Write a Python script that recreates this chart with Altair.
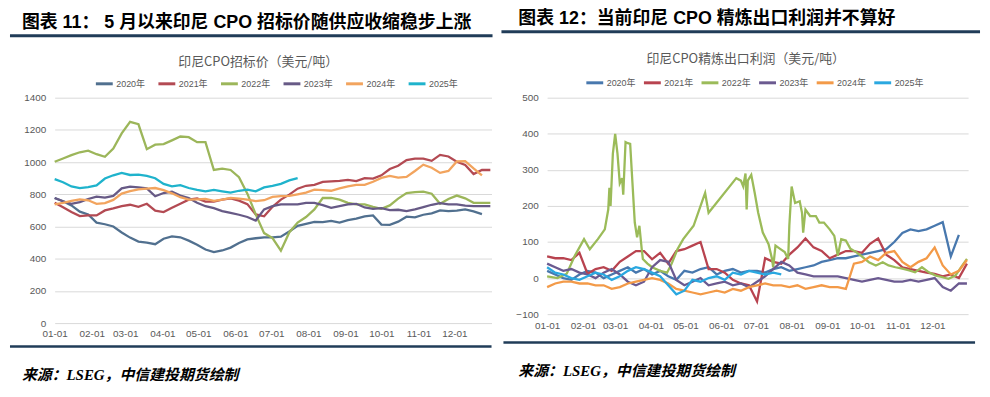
import json
import pandas as pd
import altair as alt

years = ["2020年", "2021年", "2022年", "2023年", "2024年", "2025年"]
days = list(range(0, 365, 7))
month_days = [0, 31, 59, 90, 120, 151, 181, 212, 243, 273, 304, 334]
month_labels = ["01-01", "02-01", "03-01", "04-01", "05-01", "06-01",
                "07-01", "08-01", "09-01", "10-01", "11-01", "12-01"]

# ---- left chart: CPO tender price (USD/t), weekly readings ----
tender_2020 = [777, 757, 731, 692, 675, 624, 614, 600, 563, 531, 506, 500, 490, 524, 539, 533, 512, 486,
               457, 441, 451, 469, 498, 520, 527, 533, 533, 537, 569, 604, 616, 628, 627, 635, 624, 639,
               649, 663, 669, 612, 610, 630, 661, 657, 673, 682, 700, 696, 698, 706, 694, 677, None]
tender_2021 = [747, 720, 690, 665, 669, 669, 700, 712, 726, 735, 722, 741, 698, 690, 716, 741, 767, 775,
               755, 755, 767, 775, 761, 739, 675, 663, 722, 767, 798, 835, 853, 859, 877, 880, 884, 890,
               882, 900, 898, 918, 957, 977, 1012, 1022, 1022, 1008, 1045, 1035, 1002, 982, 926, 951, 951]
tender_2022 = [1002, 1022, 1043, 1061, 1071, 1049, 1033, 1084, 1178, 1250, 1235, 1080, 1108, 1112, 1135,
               1159, 1155, 1124, 1124, 951, 959, 951, 906, 804, 675, 559, 528, 450, 563, 624, 659, 706,
               777, 777, 767, 747, 737, 737, 722, 710, 731, 773, 808, 814, 816, 804, 741, 771, 792, 775,
               747, 747, 747]
tender_2023 = [777, 757, 741, 751, 771, 786, 780, 790, 837, 847, 843, 837, 788, 808, 816, 792, 777, 747,
               726, 714, 696, 684, 673, 659, 637, 706, 726, 737, 737, 737, 747, 747, 733, 716, 726, 737,
               741, 718, 710, 714, 702, 704, 696, 706, 720, 735, 745, 737, 737, 729, 726, 726, 726]
tender_2024 = [737, 747, 759, 769, 763, 741, 745, 765, 804, 820, 831, 835, 839, 826, 806, 782, 767, 769,
               771, 759, 767, 778, 773, 767, 757, 763, 784, 788, 790, 800, 810, 829, 826, 822, 837, 849,
               859, 859, 878, 902, 914, 904, 908, 945, 984, 965, 933, 945, 1004, 1006, 961, 918, None]
tender_2025 = [894, 875, 849, 839, 845, 855, 898, 918, 933, 920, 922, 914, 900, 865, 849, 857, 839, 827,
               818, 827, 818, 810, 822, 829, 818, 843, 853, 865, 886, 900]

# ---- right chart: refining export margin (USD/t), weekly readings ----
margin_2020 = [20, 10, 0, -5, 10, 20, 15, 0, 10, 20, 30, 15, 25, 10, 20, 5, -5, 20, 15, 25, 30, 10, 20,
               25, 15, 20, 20, 15, 25, 30, 20, 25, 30, 35, 45, 50, 55, 55, 60, 65, 70, 75, 80, 100, 125,
               135, 130, 135, 145, 155, 60, 120, None]
margin_2021 = [60, 55, 55, 50, 70, 12, 25, 30, 20, 45, 60, 75, 75, 52, 70, 40, 75, 80, 90, 100, 25, 25,
               15, -5, -15, -20, -65, 55, 45, 40, 65, 85, 110, 85, 75, 55, 65, 75, 75, 70, 95, 110, 65,
               50, 30, 25, 20, 15, 12, 5, 10, 0, 40]
margin_2022_days = [0, 9, 17, 24, 32, 37, 44, 50, 53, 54, 55, 57, 59, 61, 63, 65, 66, 68, 70, 72, 74, 76,
                    78, 80, 82, 83, 87, 91, 98, 104, 108, 113, 118, 127, 136, 137, 140, 164, 168, 170,
                    172, 173, 174, 177, 180, 183, 187, 192, 195, 196, 198, 202, 206, 209, 210, 212, 215,
                    219, 221, 222, 224, 228, 233, 236, 240, 245, 249, 252, 255, 259, 263, 268, 272, 279,
                    285, 291, 296, 302, 308, 314, 319, 325, 331, 337, 342, 348, 354, 360, 364]
margin_2022 = [5, 0, 12, 62, 108, 80, 108, 135, 190, 250, 200, 345, 400, 345, 263, 277, 231, 377, 374,
               372, 263, 154, 113, 145, 81, 53, 40, 30, 20, 15, 40, 80, 108, 145, 227, 236, 181, 277, 270,
               254, 290, 190, 270, 286, 236, 181, 126, 94, 53, 30, 90, 81, 72, 53, 145, 254, 208, 213,
               181, 126, 190, 172, 172, 154, 154, 135, 117, 62, 108, 104, 81, 72, 62, 44, 35, 44, 35, 30,
               26, 21, 16, 30, 16, 7, 3, -2, 7, 35, 53]
margin_2023 = [40, 30, 20, 25, 15, 10, 0, 15, 25, 10, -10, -20, -10, 30, 50, 45, -5, -20, -10, 0, -20,
               -15, -10, -20, -15, -25, -10, 5, 25, 45, 35, 15, 10, 5, 5, 5, 5, 0, -5, -10, -5, 0, -5,
               -10, -10, -5, -10, -5, 0, -25, -35, -15, -15]
margin_2024 = [-25, -15, -10, -10, -15, -15, -20, -20, -30, -25, -15, -10, -5, 0, -5, -15, -30, -35, -40,
               -45, -40, -35, -40, -30, -35, -25, -20, -15, -20, -20, -25, -20, -30, -25, -20, -25, -25,
               -30, 40, 45, 60, 50, 70, 75, 45, 30, 45, 55, 85, 35, 10, 20, 50]
margin_2025 = [30, 15, 10, 0, -5, 5, 15, 10, -5, 5, 20, 30, 25, 15, 5, -20, -45, -35, -5, -10, 0, 5, -5,
               15, 10, 20, 15, 10, 15, 10]

left_colors = ["#51708F", "#B34A53", "#9CB65A", "#675A86", "#F2A45E", "#1FB3CC"]
right_colors = ["#4878AE", "#B8434F", "#9BBB59", "#6B5A90", "#F39A48", "#2AA8E0"]

header_left = "图表 11： 5 月以来印尼 CPO 招标价随供应收缩稳步上涨"
header_right = "图表 12：当前印尼 CPO 精炼出口利润并不算好"
title_left = "印尼CPO招标价（美元/吨）"
title_right = "印尼CPO精炼出口利润（美元/吨）"
footer_text = "来源：LSEG，中信建投期货绘制"


def long_df(day_lists, value_lists):
    rows = []
    for yr, ds, vs in zip(years, day_lists, value_lists):
        for d, v in zip(ds, vs):
            if v is not None:
                rows.append({"day": d, "value": v, "year": yr})
    return pd.DataFrame(rows)


left_df = long_df([days] * 6, [tender_2020, tender_2021, tender_2022, tender_2023, tender_2024, tender_2025])
right_df = long_df([days, days, margin_2022_days, days, days, days],
                   [margin_2020, margin_2021, margin_2022, margin_2023, margin_2024, margin_2025])

label_expr = f"{json.dumps(month_labels)}[indexof({json.dumps(month_days)}, datum.value)]"
GREY = "#595959"
NAVY = "#203C58"


def text_layer(s, x, y, **kw):
    return alt.Chart(pd.DataFrame({"t": [s]})).mark_text(**kw).encode(
        text="t:N", x=alt.value(x), y=alt.value(y))


def rule_layer(x1, x2, y, sw):
    return alt.Chart(pd.DataFrame({"t": [0]})).mark_rule(color=NAVY, strokeWidth=sw).encode(
        x=alt.value(x1), x2=alt.value(x2), y=alt.value(y))


def make(df, colors, ydom, yvals, w, h, lx, ly, colpad, header, hx, hy, top_rule, title, tx, ty, bot_rule, fy):
    lines = alt.Chart(df).mark_line(strokeWidth=2.3).encode(
        x=alt.X("day:Q", scale=alt.Scale(domain=[0, 365], nice=False, zero=False),
                axis=alt.Axis(values=month_days, labelExpr=label_expr, grid=False, domain=False,
                              ticks=False, labelFlush=False, labelPadding=6, labelColor=GREY,
                              labelFontSize=10, labelFont="Liberation Sans", title=None)),
        y=alt.Y("value:Q", scale=alt.Scale(domain=ydom, nice=False, zero=False),
                axis=alt.Axis(values=yvals, format="d", domain=False, ticks=False, labelPadding=9,
                              labelColor=GREY, labelFontSize=10, labelFont="Liberation Sans",
                              gridColor="#D9D9D9", gridWidth=1, title=None)),
        color=alt.Color("year:N", scale=alt.Scale(domain=years, range=colors),
                        legend=alt.Legend(title=None, orient="none", legendX=lx, legendY=ly,
                                          direction="horizontal", symbolType="stroke",
                                          symbolSize=289, symbolStrokeWidth=3,
                                          labelFontSize=9, labelColor=GREY,
                                          labelFont="Liberation Sans, Noto Sans CJK SC",
                                          columnPadding=colpad, labelOffset=2, padding=0)),
    )
    layers = [
        lines,
        text_layer(header, hx, hy, align="left", baseline="middle", fontSize=18,
                   fontWeight="bold", font="Liberation Sans, Noto Sans CJK SC", color="#000000"),
        rule_layer(top_rule[0], top_rule[1], top_rule[2], 3),
        text_layer(title, tx, ty, align="center", baseline="middle", fontSize=13,
                   font="Noto Sans CJK SC", color=GREY),
        rule_layer(bot_rule[0], bot_rule[1], bot_rule[2], 2.5),
        text_layer(footer_text, hx, fy, align="left", baseline="middle", fontSize=15,
                   fontStyle="italic", fontWeight="bold", font="Liberation Serif, Noto Sans CJK SC",
                   color="#000000"),
    ]
    return alt.layer(*layers).properties(width=w, height=h)


left = make(left_df, left_colors, [0, 1400], list(range(0, 1401, 200)), 440, 227,
            40, -24, 6, header_left, -33, -75, (-45, 441, -62.5), title_left, 205, -36,
            (-45, 440, 250.5), 279)
right = make(right_df, right_colors, [-100, 500], list(range(-100, 501, 100)), 424, 218,
             38, -25, 1, header_right, -29, -79, (-46, 436, -66.5), title_right, 200, -39,
             (-44, 431, 246.5), 275)

chart = alt.hconcat(left, right, spacing=4).resolve_scale(
    color="independent", x="independent", y="independent"
).resolve_legend(color="independent").properties(
    padding={"left": 0, "top": 1, "right": 0, "bottom": 0}, background="white"
).configure_view(stroke=None)

chart.save("out.html", embed_options={"renderer": "svg", "actions": False})
